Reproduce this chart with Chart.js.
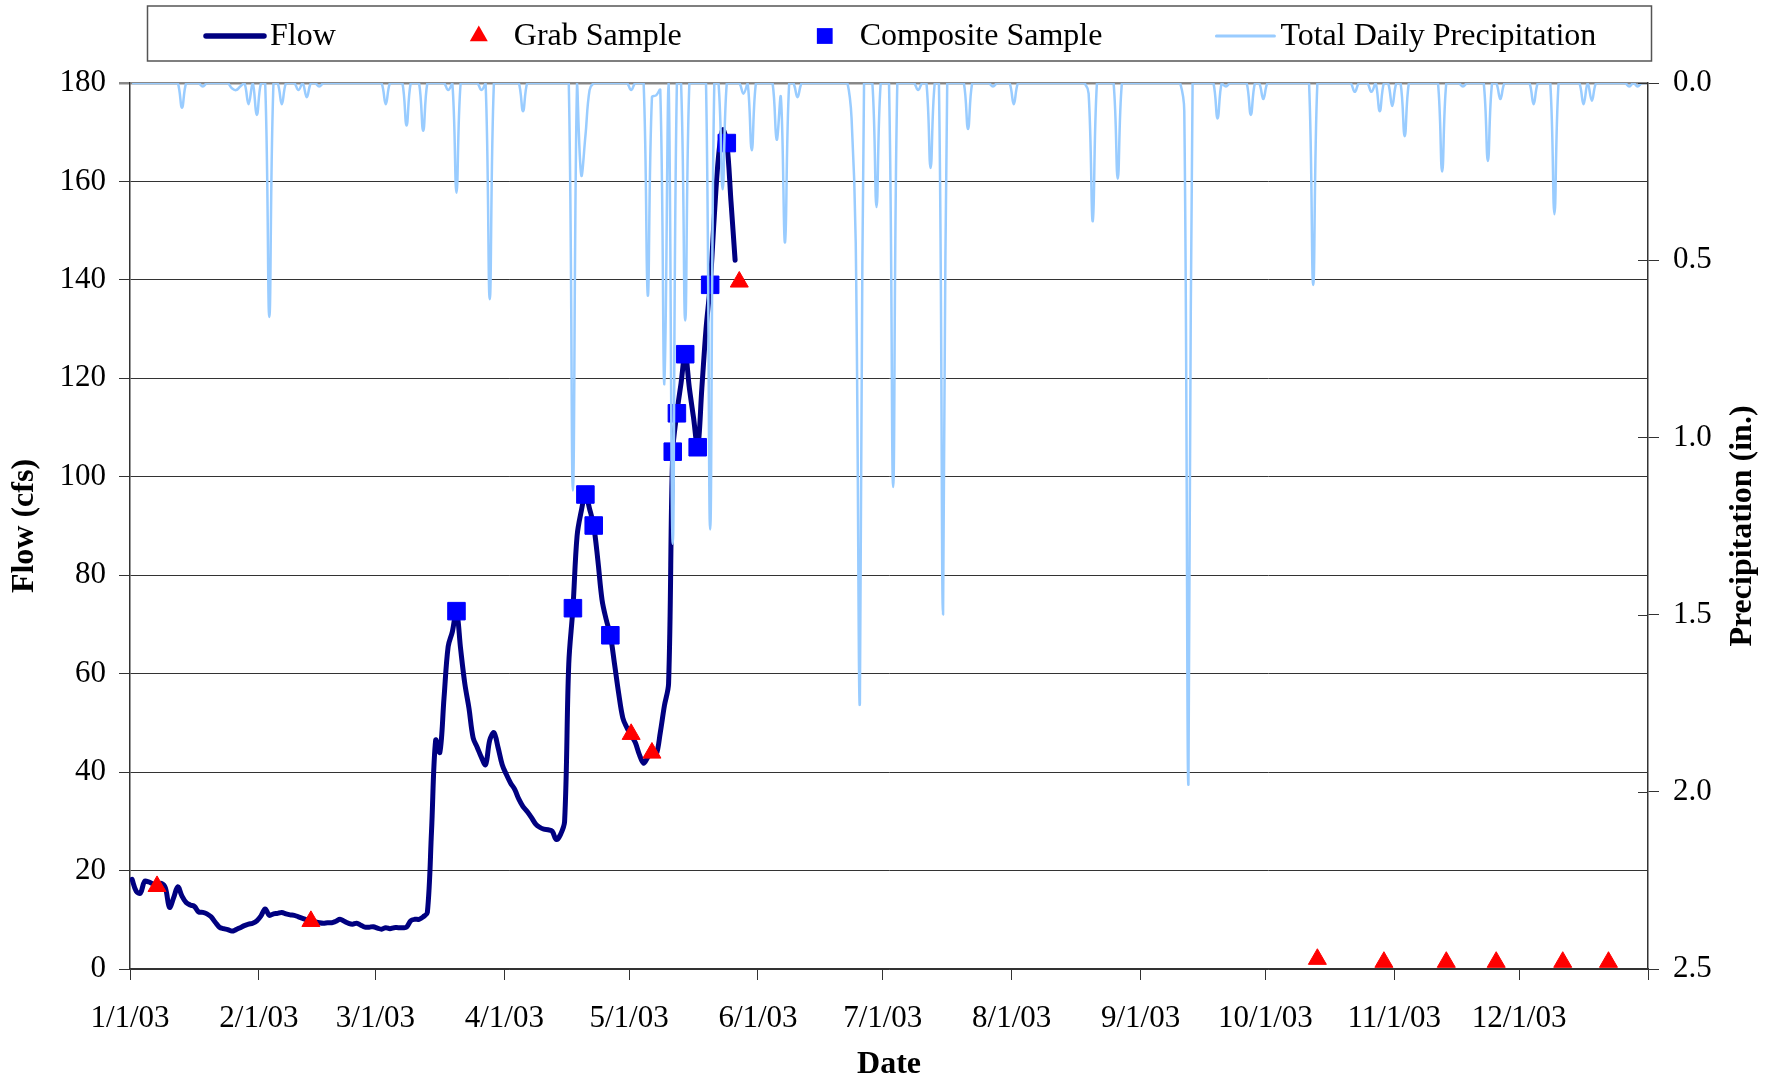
<!DOCTYPE html>
<html>
<head>
<meta charset="utf-8">
<title>Flow and Total Daily Precipitation, 2003</title>
<script src="https://cdn.jsdelivr.net/npm/chart.js@4.4.1/dist/chart.umd.min.js"></script>
<style>
  html, body { margin: 0; padding: 0; background: #fff; }
  #wrap { width: 1778px; height: 1078px; }
</style>
</head>
<body>
<div id="wrap"><canvas id="flowChart" width="1778" height="1078"></canvas></div>
<script>
// x axis: month starts, as day of year (0 = 1/1/03)
const monthStartDays = [0, 31, 59, 90, 120, 151, 181, 212, 243, 273, 304, 334, 365];
const monthLabels = ['1/1/03', '2/1/03', '3/1/03', '4/1/03', '5/1/03', '6/1/03',
  '7/1/03', '8/1/03', '9/1/03', '10/1/03', '11/1/03', '12/1/03', ''];

// daily flow (cfs), starting 1/1/03
const flowCfs = [
  18.2, 15.8, 15.4, 17.8, 17.7, 17.3, 17.2, 17.4, 16.5, 12.5, 14.5, 16.7, 14.8, 13.5, 13.0, 12.7,
  11.6, 11.5, 11.2, 10.6, 9.5, 8.5, 8.2, 8.0, 7.7, 8.0, 8.4, 8.8, 9.1, 9.3, 9.8,
  10.8, 12.2, 10.9, 11.2, 11.3, 11.5, 11.2, 11.0, 10.9, 10.6, 10.3, 10.0, 9.8, 9.6,
  9.4, 9.3, 9.4, 9.4, 9.7, 10.1, 9.7, 9.3, 9.1, 9.3, 8.9, 8.5, 8.5, 8.6,
  8.3, 8.1, 8.4, 8.2, 8.4, 8.4, 8.4, 8.5, 9.8, 10.1, 10.1, 10.6, 11.5, 28, 46.5, 44,
  55, 65.5, 68.5, 72.7, 65, 58, 53, 47, 45, 43, 41.5, 46.5, 48, 45, 41.5,
  39.5, 37.8, 36.5, 34.5, 33, 32, 30.8, 29.5, 28.8, 28.4, 28.3, 28, 26.3, 27.3, 30,
  62, 73.3, 88, 93, 96.4, 93.5, 90, 83, 75, 71, 67.8, 62, 56, 51, 49,
  47.5, 46, 43.5, 41.8, 43, 44, 43.5, 48, 53.5, 58, 105, 113, 119, 125, 118,
  112, 106, 118, 130, 139, 153, 165, 170.5, 167.8, 156, 144
];

// grab samples
const grabDates = ['1/7/03', '2/13/03', '5/1/03', '5/6/03', '5/27/03', '10/13/03',
  '10/29/03', '11/13/03', '11/25/03', '12/11/03', '12/22/03'];
const grabFlow = [16.8, 9.7, 47.7, 43.9, 139.6, 2.0, 1.4, 1.4, 1.4, 1.4, 1.4];

// composite samples
const compositeDates = ['3/20/03', '4/17/03', '4/20/03', '4/22/03', '4/26/03', '5/11/03',
  '5/12/03', '5/14/03', '5/17/03', '5/20/03', '5/24/03'];
const compositeFlow = [72.7, 73.3, 96.4, 90.1, 67.8, 105.1, 112.9, 124.9, 106, 139, 167.8];

// total daily precipitation (in.), 1/1/03 to 12/31/03, one row per month
const precipIn = [
  0,0,0,0,0,0,0,0,0,0, 0,0,0.07,0,0,0,0,0.01,0,0, 0,0,0,0,0.015,0.02,0.01,0,0.06,0, 0.09,
  0,0,0.66,0,0,0.06,0,0,0,0.02, 0,0.04,0,0,0.01,0,0,0,0,0, 0,0,0,0,0,0,0,0,
  0,0,0.06,0,0,0,0,0.12,0,0, 0,0.135,0,0,0,0,0,0.02,0,0.31, 0,0,0,0,0,0.02,0,0.61,0,0, 0,
  0,0,0,0,0.08,0,0,0,0,0, 0,0,0,0,0,0,1.15,0,0.26,0.15, 0.02,0,0,0,0,0,0,0,0,0,
  0.02,0,0,0,0.6,0.04,0.035,0.02,0.85,0, 1.3,0,0,0.67,0,0,0,0,0,1.26, 0,0,0.3,0,0,0,0,0.03,0,0.19, 0,
  0,0,0,0,0.16,0.04,0.45,0,0,0.04, 0,0,0,0,0,0,0,0,0,0, 0,0,0.1,0.45,1.75,0,0,0,0.35,0,
  0,0,1.14,0,0,0,0,0,0.02,0, 0,0.24,0,0,1.5,0,0,0,0,0, 0.13,0,0,0,0,0,0.01,0,0,0, 0,
  0.06,0,0,0,0,0,0,0,0,0, 0,0,0,0,0,0,0,0,0.03,0.39, 0,0,0,0,0,0.27,0,0,0,0, 0,
  0,0,0,0,0,0,0,0,0,0, 0.08,1.98,0,0,0,0,0,0,0.1,0, 0.01,0,0,0,0,0,0.09,0,0,0.045,
  0,0,0,0,0,0,0,0,0,0, 0,0.57,0,0,0,0,0,0,0,0, 0,0.025,0,0,0,0.025,0,0.08,0,0, 0.065,
  0,0,0.15,0,0,0,0,0,0,0, 0,0.25,0,0,0,0,0.01,0,0,0, 0,0,0.22,0,0,0.045,0,0,0,0,
  0,0,0,0.06,0,0,0,0,0.37,0, 0,0,0,0,0,0.06,0,0.05,0,0, 0,0,0,0,0,0,0.01,0,0.01,0, 0
];

// day of year for "m/d/yy"; points sit in the middle of their day
function dayOfYear(s) {
  const [m, d, y] = s.split('/').map(Number);
  return (Date.UTC(2000 + y, m - 1, d) - Date.UTC(2003, 0, 1)) / 86400000;
}
const daily = values => values.map((v, i) => ({ x: i + 0.5, y: v }));
const byDate = (dates, values) => dates.map((s, i) => ({ x: dayOfYear(s) + 0.5, y: values[i] }));

const SERIF = '"Liberation Serif", "Times New Roman", serif';
Chart.defaults.font.family = SERIF;
Chart.defaults.color = '#000';

// legend box, right-hand title and the inner half of the right ticks
const decor = {
  id: 'decor',
  afterDraw(chart) {
    const ctx = chart.ctx;
    const area = chart.chartArea;
    const y1 = chart.scales.y1;

    ctx.save();
    ctx.strokeStyle = '#333';
    ctx.lineWidth = 1;
    y1.ticks.forEach(t => {
      const py = Math.round(y1.getPixelForValue(t.value)) + 0.5;
      ctx.beginPath();
      ctx.moveTo(area.right - 10, py);
      ctx.lineTo(area.right, py);
      ctx.stroke();
    });

    ctx.translate(area.right + 95, (area.top + area.bottom) / 2);
    ctx.rotate(-Math.PI / 2);
    ctx.font = 'bold 32px ' + SERIF;
    ctx.fillStyle = '#000';
    ctx.textAlign = 'center';
    ctx.textBaseline = 'middle';
    ctx.fillText('Precipitation (in.)', 0, 0);
    ctx.restore();

    // legend
    ctx.save();
    ctx.strokeStyle = '#555';
    ctx.lineWidth = 1.5;
    ctx.strokeRect(147.5, 6, 1504, 55);
    ctx.font = '32px ' + SERIF;
    ctx.textAlign = 'left';
    ctx.textBaseline = 'middle';
    let x = 204;
    const cy = 36;
    chart.data.datasets.forEach(ds => {
      const cx = x + 31;
      if (ds.showLine === false) {
        const r = ds.pointRadius;
        ctx.fillStyle = ds.backgroundColor;
        ctx.beginPath();
        if (ds.pointStyle === 'triangle') {
          ctx.moveTo(cx, cy - r);
          ctx.lineTo(cx + r * Math.sin(Math.PI * 2 / 3), cy + r / 2);
          ctx.lineTo(cx - r * Math.sin(Math.PI * 2 / 3), cy + r / 2);
          ctx.closePath();
        } else {
          const h = r * Math.SQRT1_2 * 0.9;
          ctx.rect(cx - h, cy - h, 2 * h, 2 * h);
        }
        ctx.fill();
      } else {
        ctx.strokeStyle = ds.borderColor;
        ctx.lineWidth = ds.borderWidth + 0.5;
        ctx.lineCap = 'round';
        ctx.beginPath();
        ctx.moveTo(x + 2, cy);
        ctx.lineTo(x + 60, cy);
        ctx.stroke();
      }
      ctx.fillStyle = '#000';
      ctx.fillText(ds.label, x + 66, cy + 1);
      x += 66 + ctx.measureText(ds.label).width + 112;
    });
    ctx.restore();
  }
};

new Chart(document.getElementById('flowChart'), {
  type: 'line',
  data: {
    datasets: [
      {
        label: 'Flow',
        data: daily(flowCfs),
        yAxisID: 'y',
        borderColor: '#000080',
        borderWidth: 5,
        borderCapStyle: 'round',
        borderJoinStyle: 'round',
        pointRadius: 0,
        tension: 0.35,
        order: 3
      },
      {
        label: 'Grab Sample',
        data: byDate(grabDates, grabFlow),
        yAxisID: 'y',
        showLine: false,
        pointStyle: 'triangle',
        pointRadius: 10.4,
        backgroundColor: '#FF0000',
        borderColor: '#FF0000',
        borderWidth: 1,
        order: 2
      },
      {
        label: 'Composite Sample',
        data: byDate(compositeDates, compositeFlow),
        yAxisID: 'y',
        showLine: false,
        pointStyle: 'rect',
        pointRadius: 12.4,
        backgroundColor: '#0000FF',
        borderColor: '#0000FF',
        borderWidth: 1,
        order: 1
      },
      {
        label: 'Total Daily Precipitation',
        data: daily(precipIn),
        yAxisID: 'y1',
        borderColor: '#99CCFF',
        borderWidth: 2.5,
        pointRadius: 0,
        tension: 0.4,
        order: 0
      }
    ]
  },
  options: {
    responsive: false,
    animation: false,
    events: [],
    layout: { padding: { top: 83, left: 0, right: 0, bottom: 0 } },
    plugins: {
      legend: { display: false },
      tooltip: { enabled: false }
    },
    scales: {
      x: {
        type: 'linear',
        position: 'bottom',
        min: 0,
        max: 365,
        afterBuildTicks: s => { s.ticks = monthStartDays.map(v => ({ value: v })); },
        afterFit: s => { s.height = 109; },
        ticks: {
          autoSkip: false,
          maxRotation: 0,
          padding: 20,
          font: { size: 31 },
          callback: v => monthLabels[monthStartDays.indexOf(v)]
        },
        grid: { drawOnChartArea: false, tickLength: 11, color: '#333' },
        border: { color: '#333', width: 1.5 },
        title: { display: true, text: 'Date', font: { size: 32, weight: 'bold', lineHeight: 0.85 }, padding: 0 }
      },
      y: {
        position: 'left',
        min: 0,
        max: 180,
        afterFit: s => { s.width = 130; },
        ticks: { stepSize: 20, padding: 13, font: { size: 31 } },
        grid: {
          tickLength: 11,
          color: c => (c.tick && c.tick.value === 180 ? '#888' : '#333'),
          lineWidth: c => (c.tick && c.tick.value === 180 ? 2.5 : 1)
        },
        border: { color: '#333', width: 1.5 },
        title: { display: true, text: 'Flow (cfs)', font: { size: 32, weight: 'bold', lineHeight: 1 }, padding: { top: 9, bottom: 0 } }
      },
      y1: {
        position: 'right',
        reverse: true,
        min: 0,
        max: 2.5,
        afterFit: s => { s.width = 130; },
        ticks: { stepSize: 0.5, padding: 14, font: { size: 31 }, callback: v => v.toFixed(1) },
        grid: { drawOnChartArea: false, tickLength: 11, color: '#333' },
        border: { color: '#333', width: 1.5 }
      }
    }
  },
  plugins: [decor]
});
</script>
</body>
</html>
